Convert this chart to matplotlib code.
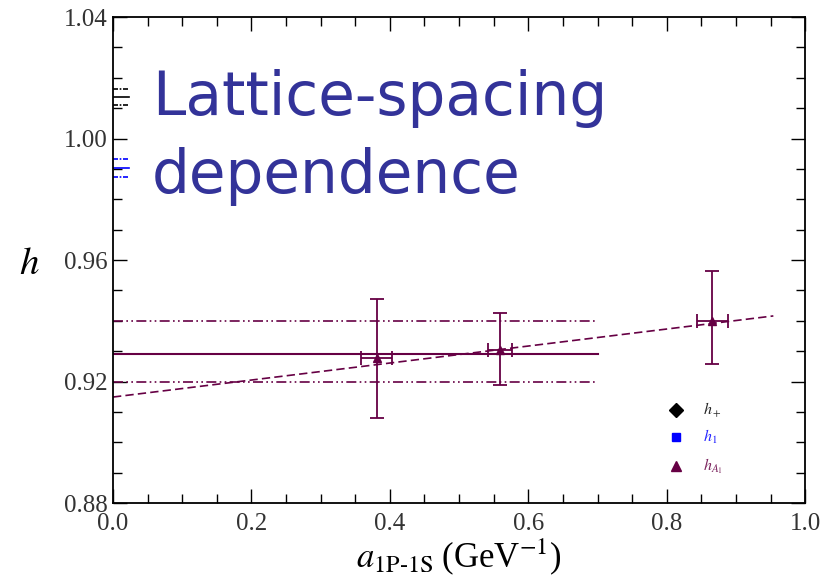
import matplotlib.pyplot as plt
from matplotlib.ticker import MultipleLocator

# data
a_vals = [0.381, 0.559, 0.866]
h_vals = [0.9277, 0.9304, 0.9399]
h_err_lo = [0.0197, 0.0115, 0.0141]
h_err_hi = [0.0195, 0.0122, 0.0165]
a_err = [0.022, 0.017, 0.022]

fit_x = [0.0, 0.954]
fit_y = [0.9149, 0.9416]

band_mid = 0.929
band_lo = 0.920
band_hi = 0.940
band_end = 0.70

# short marks on the left edge
hplus_marks = [1.0163, 1.0137, 1.011]
h1_marks = [0.9933, 0.9903, 0.9873]

legend_labels = [r'$h_+$', r'$h_1$', r'$h_{A_1}$']
legend_y = [0.9106, 0.9017, 0.8922]

maroon = '#660044'

plt.rcParams['font.family'] = ['Liberation Serif', 'DejaVu Serif']
plt.rcParams['mathtext.fontset'] = 'stix'

fig = plt.figure(figsize=(8.37, 5.87), dpi=100)
ax = fig.add_axes([0.135, 0.143, 0.827, 0.828])

# fit bands
dd = [6, 2, 1, 2, 1, 2]
ax.plot([0, band_end], [band_mid, band_mid], color=maroon, lw=1.5)
ax.plot([0, band_end], [band_hi, band_hi], color=maroon, lw=1.2, dashes=dd)
ax.plot([0, band_end], [band_lo, band_lo], color=maroon, lw=1.2, dashes=dd)
ax.plot(fit_x, fit_y, color=maroon, lw=1.2, dashes=[5, 2.5])

# data points
ax.errorbar(a_vals, h_vals, yerr=[h_err_lo, h_err_hi], xerr=a_err, fmt='^',
            color=maroon, ms=6, capsize=5, elinewidth=1.3, capthick=1.3)

# edge marks
for i, y in enumerate(hplus_marks):
    ax.plot([0, 0.023], [y, y], color='black', lw=1.2,
            ls='-' if i == 1 else (0, (3, 1, 1, 1)))
for i, y in enumerate(h1_marks):
    ax.plot([0, 0.023], [y, y], color='blue', lw=1.2,
            ls='-' if i == 1 else (0, (3, 1, 1, 1)))

# legend drawn by hand
leg_marks = ['D', 's', '^']
leg_cols = ['black', 'blue', maroon]
leg_ms = [7, 6, 7]
for lab, y, m, c, s in zip(legend_labels, legend_y, leg_marks, leg_cols, leg_ms):
    ax.plot(0.813, y, m, color=c, ms=s)
    ax.text(0.852, y, lab, color=c, fontsize=11.5, va='center', alpha=0.85)

ax.set_xlim(0, 1.0)
ax.set_ylim(0.88, 1.04)
ax.xaxis.set_major_locator(MultipleLocator(0.2))
ax.xaxis.set_minor_locator(MultipleLocator(0.05))
ax.yaxis.set_major_locator(MultipleLocator(0.04))
ax.yaxis.set_minor_locator(MultipleLocator(0.01))
ax.xaxis.set_major_formatter(plt.FuncFormatter(lambda v, p: f'{v:.1f}'))
ax.yaxis.set_major_formatter(plt.FuncFormatter(lambda v, p: f'{v:.2f}'))
ax.tick_params(which='both', direction='in', top=True, right=True, labelsize=18,
               width=1.0, colors='black', labelcolor='#333333')
ax.tick_params(which='major', length=10)
ax.tick_params(which='minor', length=6.5)
ax.tick_params(axis='x', pad=7)
ax.tick_params(axis='y', pad=4)
for sp in ax.spines.values():
    sp.set_linewidth(1.3)

ax.set_xlabel(r'$a_{\mathrm{1P\text{-}1S}}\;$(GeV$^{-1}$)', fontsize=25, labelpad=1)
ax.set_ylabel(r'$h$', fontsize=28, rotation=0, va='center', ha='center')
ax.yaxis.set_label_coords(-0.121, 0.49)

fig.text(0.1816, 1 - 115 / 587, 'Lattice-spacing', color='#333399',
         fontsize=43, family='DejaVu Sans', va='baseline', ha='left')
fig.text(0.1816, 1 - 193 / 587, 'dependence', color='#333399',
         fontsize=43, family='DejaVu Sans', va='baseline', ha='left')

fig.savefig('out.png', dpi=100)
